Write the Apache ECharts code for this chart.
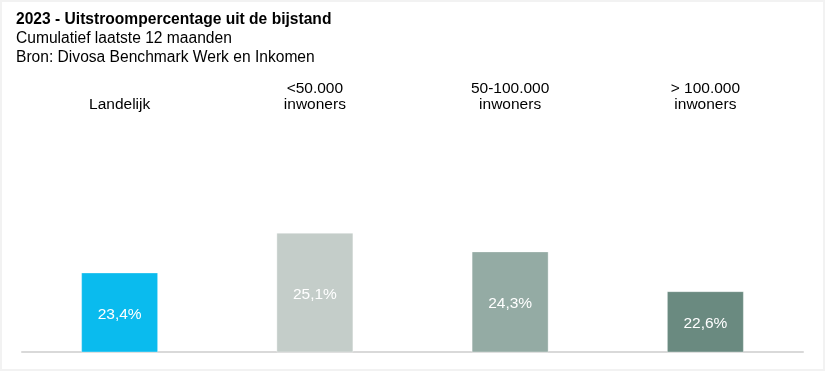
<!DOCTYPE html>
<html>
<head>
<meta charset="utf-8">
<script src="https://cdn.jsdelivr.net/npm/echarts@6/dist/echarts.min.js"></script>
<style>
html,body{margin:0;padding:0;background:#fff;}
#frame{width:825px;height:371px;box-sizing:border-box;border:2px solid #f2f2f2;position:relative;}
#chart{position:absolute;left:-2px;top:-2px;width:825px;height:371px;}
</style>
</head>
<body>
<div id="frame"><div id="chart"></div></div>
<script>
const titleText = '2023 - Uitstroompercentage uit de bijstand';
const subtitleLines = ['Cumulatief laatste 12 maanden', 'Bron: Divosa Benchmark Werk en Inkomen'];
const categories = ['Landelijk', '<50.000\ninwoners', '50-100.000\ninwoners', '> 100.000\ninwoners'];
const values = [23.4, 25.1, 24.3, 22.6];
const colors = ['#0ABBEE', '#C4CDC9', '#94ABA4', '#6A8A80'];

const chart = echarts.init(document.getElementById('chart'), null, {renderer: 'canvas'});
const font = '"Liberation Sans", Arial, sans-serif';
chart.setOption({
  animation: false,
  backgroundColor: 'transparent',
  title: {
    text: titleText,
    subtext: subtitleLines.join('\n'),
    left: 11, top: 6,
    itemGap: 0,
    textStyle: {fontFamily: font, fontSize: 15.6, fontWeight: 'bold', color: '#000', lineHeight: 18},
    subtextStyle: {fontFamily: font, fontSize: 15.6, color: '#000', lineHeight: 19}
  },
  grid: {left: 22, right: 22, top: 118, bottom: 19, containLabel: false},
  xAxis: [
    {
      type: 'category', data: categories, position: 'bottom',
      axisLine: {lineStyle: {color: '#d9d9d9', width: 2}},
      axisTick: {show: false}, axisLabel: {show: false}
    },
    {
      type: 'category', data: categories, position: 'top', offset: -3,
      axisLine: {show: false}, axisTick: {show: false},
      axisLabel: {fontFamily: font, fontSize: 15.5, color: '#000', lineHeight: 16, interval: 0}
    }
  ],
  yAxis: {type: 'value', min: 20, max: 30, show: false, splitLine: {show: false}},
  series: [{
    type: 'bar',
    xAxisIndex: 0,
    barWidth: 77,
    data: values.map((v, i) => ({value: v, itemStyle: {color: colors[i], borderColor: 'rgba(255,255,255,0.35)', borderWidth: 1}})),
    label: {
      show: true, position: 'inside', offset: [0, 2], color: '#fff', fontFamily: font, fontSize: 15.5,
      formatter: p => p.value.toFixed(1).replace('.', ',') + '%'
    }
  }]
});
</script>
</body>
</html>
